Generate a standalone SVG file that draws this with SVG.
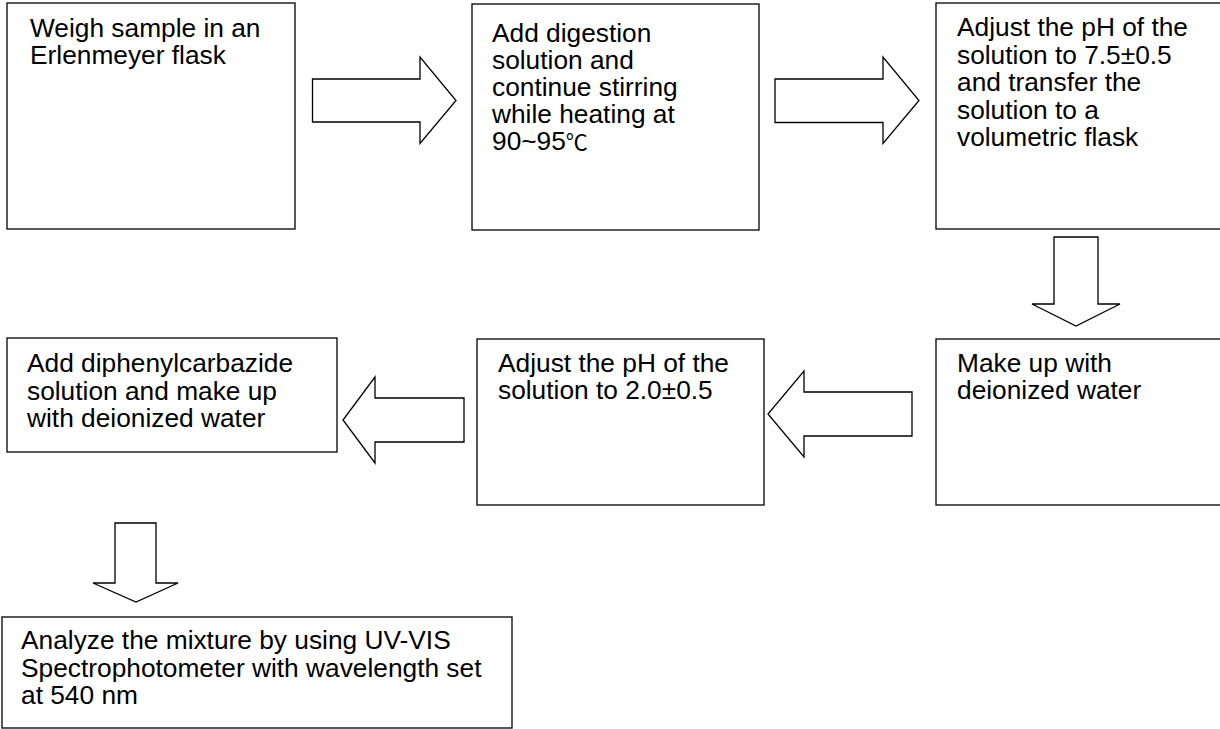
<svg xmlns="http://www.w3.org/2000/svg" width="1220" height="729" viewBox="0 0 1220 729">
<style>
.box{fill:#fff;stroke:#000;stroke-width:1.3}
.arr{fill:#fff;stroke:#000;stroke-width:1.3;stroke-linejoin:miter}
text{font-family:"Liberation Sans",Arial,sans-serif;font-size:26.3px;fill:#000}
</style>
<rect width="1220" height="729" fill="#fff"/>
<g id="connectors">
<polygon class="arr" points="312.5,79 420,79 420,57 456,100.5 420,143.5 420,122 312.5,122"/>
<polygon class="arr" points="775,79 883,79 883,57 919,100.5 883,143.5 883,122.5 775,122.5"/>
<polygon class="arr" points="1054,237 1098,237 1098,304 1120,304 1076,326 1032,304 1054,304"/>
<polygon class="arr" points="912,392 804,392 804,371 768,414 804,457 804,436 912,436"/>
<polygon class="arr" points="464,398 375,398 375,377 343,420 375,463 375,442 464,442"/>
<polygon class="arr" points="115,523 156,523 156,583 178,583 136,602 93,583 115,583"/>
</g>
<g id="n1">
<rect class="box" x="7" y="3" width="288" height="226"/>
<text x="30" y="37">Weigh sample in an</text>
<text x="30" y="64">Erlenmeyer flask</text>
</g>
<g id="n2">
<rect class="box" x="472" y="4" width="287" height="226"/>
<text x="492" y="41.5">Add digestion</text>
<text x="492" y="68.5">solution and</text>
<text x="492" y="96">continue stirring</text>
<text x="492" y="123">while heating at</text>
<text x="492" y="150">90~95<tspan font-family="'Noto Sans CJK SC',serif" font-size="22">℃</tspan></text>
</g>
<g id="n3">
<rect class="box" x="936" y="3" width="300" height="226"/>
<text x="957" y="36">Adjust the pH of the</text>
<text x="957" y="63.5">solution to 7.5±0.5</text>
<text x="957" y="91">and transfer the</text>
<text x="957" y="118.5">solution to a</text>
<text x="957" y="146">volumetric flask</text>
</g>
<g id="n6">
<rect class="box" x="936" y="339" width="300" height="166"/>
<text x="957" y="372">Make up with</text>
<text x="957" y="398.5">deionized water</text>
</g>
<g id="n5">
<rect class="box" x="477" y="339" width="287" height="166"/>
<text x="498" y="372">Adjust the pH of the</text>
<text x="498" y="399">solution to 2.0±0.5</text>
</g>
<g id="n4">
<rect class="box" x="7" y="338" width="330" height="114"/>
<text x="27" y="372">Add diphenylcarbazide</text>
<text x="27" y="400">solution and make up</text>
<text x="27" y="427">with deionized water</text>
</g>
<g id="n7">
<rect class="box" x="2" y="617" width="510" height="111"/>
<text x="21" y="649">Analyze the mixture by using UV-VIS</text>
<text x="21" y="677">Spectrophotometer with wavelength set</text>
<text x="21" y="704">at 540 nm</text>
</g>
</svg>
